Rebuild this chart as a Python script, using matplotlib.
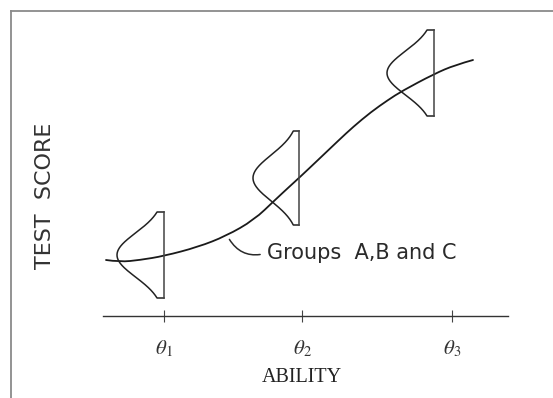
import numpy as np
import matplotlib
matplotlib.use("Agg")
import matplotlib.pyplot as plt
from matplotlib.path import Path
from matplotlib.patches import PathPatch

plt.rcParams["mathtext.fontset"] = "stix"

# ---- data (units: ability / score, arbitrary scale) ----
curve_ability = [106, 120, 140, 164, 198, 226, 254, 275, 289, 300, 318, 339, 353,
                 371, 388, 402, 434, 455, 473]
curve_score = [138, 136, 138, 142, 151, 162, 178, 198, 211, 221, 238, 258, 271,
               286, 298, 307, 324, 333, 338]

dist_ability = [164, 299, 434]        # location of each conditional distribution
dist_mean = [143, 220, 325]           # mean score of each group
dist_sd = [22, 23, 22]                # spread of scores
dist_halfspan = [43, 47, 43]          # extent drawn on each side of the mean
dist_peak = [47, 46, 47]              # drawn height of the density peak

tick_pos = [164, 302, 452]
tick_labels = [r"$\theta_1$", r"$\theta_2$", r"$\theta_3$"]

W, H = 553, 398
fig = plt.figure(figsize=(W / 100, H / 100), dpi=100)
fig.patch.set_facecolor("white")

# outer frame (left and top edges visible)
fr = fig.add_axes([10.5 / W, -0.2, 1.2, 0.2 + (H - 10.5) / H])
fr.set_xticks([]); fr.set_yticks([])
fr.patch.set_alpha(0)
for s in ["right", "bottom"]:
    fr.spines[s].set_visible(False)
for s in ["left", "top"]:
    fr.spines[s].set_color("#8a8a8a")
    fr.spines[s].set_linewidth(1.3)

ax = fig.add_axes([0, 0, 1, 1])
ax.patch.set_alpha(0)
ax.set_xlim(0, W)
ax.set_ylim(0, H)
for s in ["left", "right", "top"]:
    ax.spines[s].set_visible(False)
ax.spines["bottom"].set_position(("data", H - 316))
ax.spines["bottom"].set_bounds(103, 508)
ax.spines["bottom"].set_color("#333333")
ax.spines["bottom"].set_linewidth(1.0)
ax.set_yticks([])
ax.set_xticks(tick_pos)
ax.set_xticklabels(tick_labels)
ax.tick_params(axis="x", direction="inout", length=8, width=0.8, color="#444444",
               pad=12, labelsize=15, labelcolor="#333333")

# main curve: smooth quadratic path through the read points
pts = np.column_stack([curve_ability, curve_score]).astype(float)
verts = [pts[0]]
codes = [Path.MOVETO]
for i in range(1, len(pts) - 1):
    mid = (pts[i] + pts[i + 1]) / 2 if i < len(pts) - 2 else pts[i + 1]
    verts += [pts[i], mid]
    codes += [Path.CURVE3, Path.CURVE3]
ax.add_patch(PathPatch(Path(verts, codes), facecolor="none", edgecolor="#1a1a1a",
                       lw=1.3, capstyle="round"))

# conditional distributions
for xa, mu, sd, hs, pk in zip(dist_ability, dist_mean, dist_sd, dist_halfspan, dist_peak):
    ys = np.linspace(mu - hs, mu + hs, 200)
    dens = np.exp(-0.5 * ((ys - mu) / sd) ** 2)
    xs = xa - pk * dens
    xs = np.concatenate([[xa], xs, [xa]])
    ys = np.concatenate([[mu - hs], ys, [mu + hs]])
    ax.plot(xs, ys, color="#222222", lw=1.1)
    ax.plot([xa, xa], [mu - hs, mu + hs], color="#444444", lw=1.1)

# annotation
ax.annotate("Groups  A,B and C", xy=(228, H - 237), xytext=(267, H - 253),
            fontsize=15, family="DejaVu Sans", color="#2a2a2a",
            ha="left", va="center",
            arrowprops=dict(arrowstyle="-", color="#2a2a2a", lw=1.1,
                            connectionstyle="arc3,rad=-0.4",
                            relpos=(0, 0.5), shrinkA=3, shrinkB=2))

# axis labels
ax.set_xlabel("ABILITY", family="Liberation Serif", fontsize=14.5, color="#222222")
ax.xaxis.set_label_coords(302 / W, (H - 378) / H)
ax.xaxis.label.set_va("center")
ax.set_ylabel("TEST  SCORE", family="DejaVu Sans", fontsize=16, color="#333333")
ax.yaxis.set_label_coords(45 / W, (H - 196) / H)
ax.yaxis.label.set_va("center")

fig.savefig("out.png", dpi=100, facecolor="white")
